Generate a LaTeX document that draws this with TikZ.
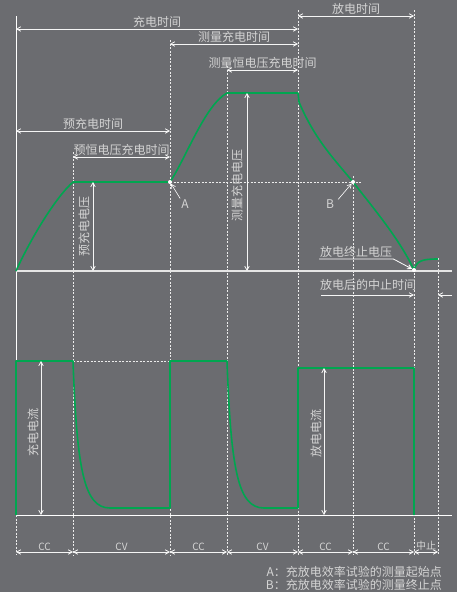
\documentclass[tikz,border=0pt]{standalone}
\usepackage{fontspec}
\setmainfont{Noto Sans CJK SC}
\usetikzlibrary{arrows.meta}
\definecolor{bggray}{HTML}{6B6C70}
\definecolor{curvegreen}{HTML}{00A650}
\definecolor{txtgray}{HTML}{D4D4D4}

\begin{document}
\begin{tikzpicture}[x=1pt, y=-1pt, >={Straight Barb[length=4pt,width=4.5pt]},
    vline/.style={white!85!gray, dashed, dash pattern=on 2pt off 1.5pt, line width=0.6pt},
    dim/.style={<->, white!92!gray, line width=0.8pt},
    curve/.style={curvegreen, line width=1.6pt, line join=round},
    lbl/.style={text=txtgray, font=\fontsize{12}{14}\selectfont, inner sep=1pt},
    small/.style={text=txtgray, font=\fontsize{10}{12}\selectfont, inner sep=1pt},
    dot/.style={circle, fill=white, inner sep=0pt, minimum size=4pt}]

        \fill[bggray] (0,0) rectangle (457,592);
        \useasboundingbox (0,0) rectangle (457,592);

        % guides
        \draw[white, line width=0.8pt] (16,16) -- (16,515);
        \draw[vline] (16,515) -- (16,555);
        \foreach \x/\top in {73/152, 170/40, 227/66, 298/10, 353/176, 414/10, 438/258}
          \draw[vline] (\x,\top) -- (\x,555);

        \draw[white!80!gray, line width=1.2pt] (16,271) -- (452,271);
        \draw[white, line width=0.8pt] (16,515) -- (452,515);
        \draw[vline] (170,182) -- (362,182);
        \draw[vline] (73,361) -- (170,361);

        % time spans
        \draw[dim] (16,29) -- (298,29) node[lbl, midway, above] (tCharge) {充电时间};
        \draw[dim] (298,16) -- (414,16) node[lbl, midway, above] (tDischarge) {放电时间};
        \draw[dim] (170,44) -- (298,44) node[lbl, midway, above] (tMeas) {测量充电时间};
        \draw[dim] (227,70) -- (298,70) node[lbl, midway, above] (tMeasCV) {测量恒电压充电时间};
        \draw[dim] (16,131) -- (170,131) node[lbl, midway, above] (tPre) {预充电时间};
        \draw[dim] (73,157) -- (170,157) node[lbl, midway, above] (tPreCV) {预恒电压充电时间};

        % voltage
        \coordinate (ptA) at (170,182);
        \coordinate (ptB) at (353,182);
        \coordinate (ptEnd) at (414,270);
        \draw[curve] (16,271) .. controls (30,240) and (55,198) .. (73,182) -- (ptA)
          .. controls (186,158) and (205,105) .. (227,93) -- (298,93) -- (299,102)
          .. controls (315,140) and (335,160) .. (ptB)
          .. controls (375,210) and (400,240) .. (ptEnd)
          .. controls (417,261) and (421,259) .. (438,259);
        \node[dot] (dotA) at (ptA) {};
        \node[dot] (dotB) at (ptB) {};
        \node[dot] (dotEnd) at (ptEnd) {};

        \draw[dim] (93,182) -- (93,271);
        \node[lbl, rotate=90] (vPre) at (84,226) {预充电电压};
        \draw[dim] (247,93) -- (247,271);
        \node[lbl, rotate=90] (vMeas) at (237,185) {测量充电电压};

        \node[lbl] (labA) at (185,204) {A};
        \draw[->, white, line width=0.6pt] (labA.north west) -- (dotA);
        \node[lbl] (labB) at (330,204) {B};
        \draw[->, white, line width=0.6pt] (labB.north east) ++(3,1) -- (dotB);

        \node[lbl, anchor=south west] (vEnd) at (319,259) {放电终止电压};
        \draw[->, white, line width=0.8pt] (vEnd.south west) -- (vEnd.south east) -- (dotEnd);

        \node[lbl, anchor=west] (tStop) at (319,285) {放电后的中止时间};
        \draw[->, white!92!gray, line width=0.8pt] (321,295) -- (414,295);
        \draw[->, white!92!gray, line width=0.8pt] (452,295) -- (438,295);

        % current
        \draw[curve] (16,515) -- (16,361) -- (73,361)
          .. controls (77,470) and (84,508) .. (110,508) -- (170,508) -- (170,361) -- (227,361)
          .. controls (231,470) and (238,508) .. (264,508) -- (298,508) -- (298,368)
          -- (414,368) -- (414,515);

        \draw[dim] (41,361) -- (41,515);
        \node[lbl, rotate=90] (iCharge) at (33,432) {充电电流};
        \draw[dim] (324,368) -- (324,515);
        \node[lbl, rotate=90] (iDischarge) at (316,433) {放电电流};

        % modes
        \foreach \a/\b/\t in {16/73/CC, 73/170/CV, 170/227/CC, 227/298/CV, 298/353/CC, 353/414/CC, 414/438/中止}
          \draw[dim] (\a,552) -- (\b,552) node[small, midway, above] (mode\a) {\t};

        \node[lbl, anchor=east] (noteA) at (443,572) {A：充放电效率试验的测量起始点};
        \node[lbl, anchor=east] (noteB) at (443,585) {B：充放电效率试验的测量终止点};
      \end{tikzpicture}
\end{document}
